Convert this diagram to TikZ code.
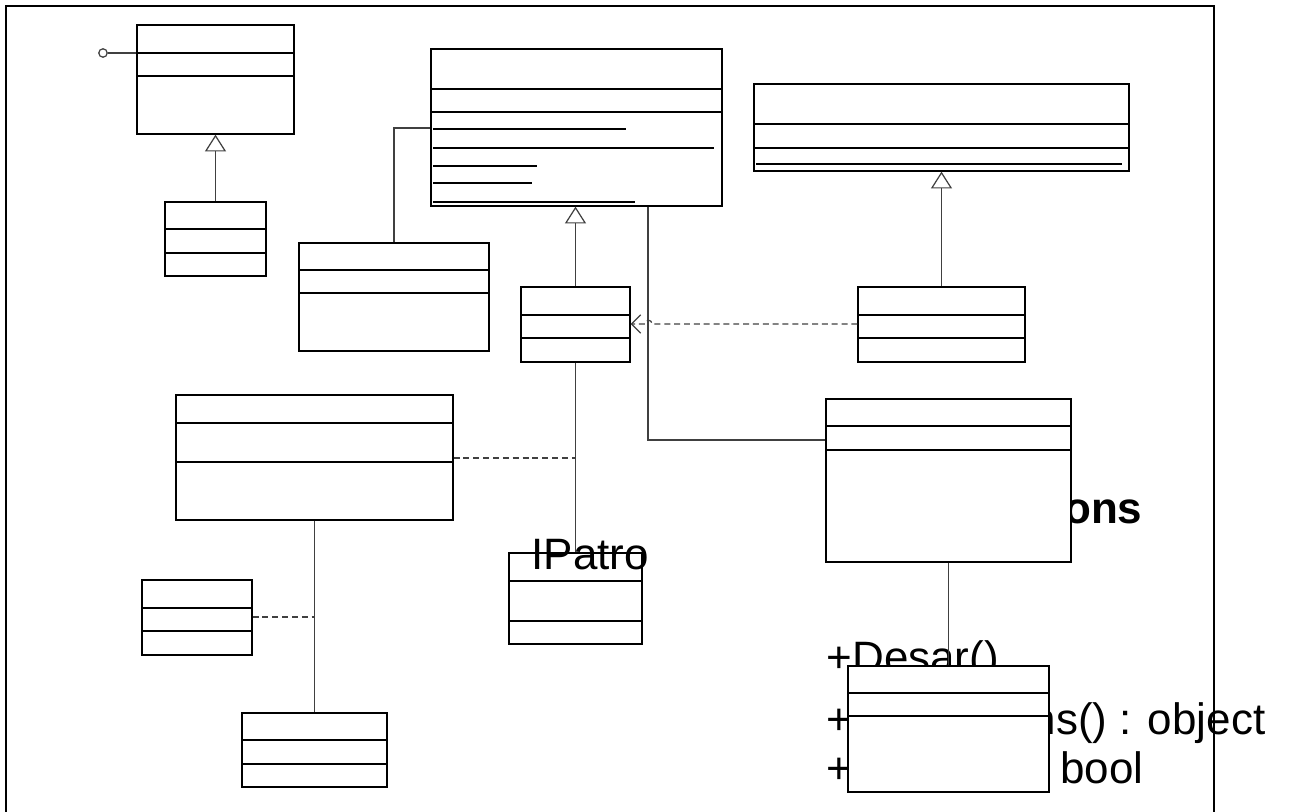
\documentclass[tikz,border=0pt]{standalone}
\usepackage{fontspec}
\setmainfont{Liberation Sans}
\usetikzlibrary{arrows.meta,fit}
\newcommand\umlbox[5]{\node[umlrect, fit={(#2,#3) (#4,#5)}] (#1) {};}
\newcommand\umlsep[2]{\draw[seprule] (#1.west |- 0,#2) -- (#1.east |- 0,#2);}
\begin{document}
\begin{tikzpicture}[x=0.01cm,y=-0.01cm,
  umlrect/.style={draw=black, fill=white, inner sep=0pt, line width=0.35pt},
  seprule/.style={draw=black, line width=0.35pt},
  conn/.style={draw=black!75, line width=0.35pt},
  dep/.style={conn, dash pattern=on 1.7pt off 1.1pt},
  gen/.style={conn, -{Triangle[open,length=4.8pt,width=6pt]}},
  lbl/.style={inner sep=0pt, font=\fontsize{12.5pt}{15pt}\selectfont},
  frame/.style={draw=black, line width=0.6pt}]
\useasboundingbox (0,0) rectangle (1290,812);

% texts partly hidden behind boxes
\node[lbl, font=\fontsize{12.5pt}{15pt}\selectfont\bfseries, anchor=base east] (tons) at (1143,523) {ons};
\node[lbl, anchor=base west] (tdesar) at (826,672) {+Desar()};
\node[lbl, anchor=base west] (tplus2) at (826,734) {+};
\node[lbl, anchor=base east] (tobj) at (1266,734) {ns() : object};
\node[lbl, anchor=base west] (tplus3) at (826,783) {+};
\node[lbl, anchor=base east] (tbool) at (1144,783) {bool};

% boxes (named first so connectors can refer to them)
\umlbox{A}{137}{25}{294}{134}
\umlbox{B}{165}{202}{266}{276}
\umlbox{C}{299}{243}{489}{351}
\umlbox{D}{431}{49}{722}{206}
\umlbox{E}{521}{287}{630}{362}
\umlbox{F}{858}{287}{1025}{362}
\umlbox{H}{754}{84}{1129}{171}
\umlbox{G}{826}{399}{1071}{562}
\umlbox{I}{848}{666}{1049}{792}
\umlbox{J}{509}{553}{642}{644}
\umlbox{K}{176}{395}{453}{520}
\umlbox{L}{142}{580}{252}{655}
\umlbox{M}{242}{713}{387}{787}

\umlsep{A}{53}\umlsep{A}{76}
\umlsep{B}{229}\umlsep{B}{253}
\umlsep{C}{270}\umlsep{C}{293}
\umlsep{D}{89}\umlsep{D}{112}
\umlsep{E}{315}\umlsep{E}{338}
\umlsep{F}{315}\umlsep{F}{338}
\umlsep{H}{124}\umlsep{H}{148}
\umlsep{G}{426}\umlsep{G}{450}
\umlsep{I}{693}\umlsep{I}{716}
\umlsep{J}{581}\umlsep{J}{621}
\umlsep{K}{423}\umlsep{K}{462}
\umlsep{L}{608}\umlsep{L}{631}
\umlsep{M}{740}\umlsep{M}{764}

% member underlines
\draw[seprule] (433,129) -- (626,129);
\draw[seprule] (433,148) -- (714,148);
\draw[seprule] (433,166) -- (537,166);
\draw[seprule] (433,183) -- (532,183);
\draw[seprule] (433,202) -- (635,202);
\draw[seprule] (756,164) -- (1122,164);

% connectors
\node[circle, draw=black!75, line width=0.35pt, inner sep=0pt, minimum size=2.4pt] (lol) at (103,53) {};
\draw[conn] (lol) -- (A.west |- lol);
\draw[gen] (B.north) -- (A.south);
\draw[gen] (E.north) -- (E.north |- D.south);
\draw[gen] (F.north) -- (F.north |- H.south);
\draw[conn] (C.north) |- (D.west |- 0,128);
\draw[conn] (D.south -| 648,0) |- (G.west |- 0,440);
\draw[conn] (E.south) -- (E.south |- J.north);
\draw[dep] (K.east |- 0,458) -- (E.south |- 0,458);
\draw[conn] (K.south) -- (M.north);
\draw[dep] (L.east |- 0,617) -- (K.south |- 0,617);
\draw[conn] (G.south) -- (I.north);
\draw[dep, -{Straight Barb[length=2.6pt,width=5.2pt]}] (F.west |- 0,324) -- (652,324)
  .. controls (652,319) and (645,319) .. (645,324) -- (E.east |- 0,324);

\node[lbl, anchor=base west] (tipatro) at (531,569) {IPatro};

% frame
\draw[frame] (6,812) -- (6,6) -- (1214,6) -- (1214,812);
\end{tikzpicture}
\end{document}
